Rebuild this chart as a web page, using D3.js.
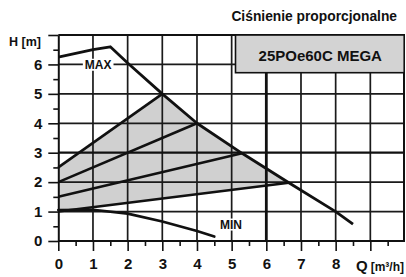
<!DOCTYPE html>
<html><head><meta charset="utf-8">
<script src="https://cdn.jsdelivr.net/npm/d3@7"></script>
<style>body{margin:0;background:#fff}svg{display:block;font-family:"Liberation Sans",Arial,sans-serif}</style>
</head><body><svg id="c" width="406" height="277"></svg>
<script>
const title = "Ciśnienie proporcjonalne";
const modelName = "25POe60C MEGA";
const xLabel = "Q [m³/h]";
const yLabel = "H [m]";
const xTickLabels = [0,1,2,3,4,5,6,7,8];
const yTickLabels = [0,1,2,3,4,5,6];
const xMajorTicks = [0,1,2,3,4,5,6,7,8,9];
const xMinorTicks = [0.5,1.5,2.5,3.5,4.5,5.5,6.5,7.5,8.5,9.5];
const yMajorTicks = [0,1,2,3,4,5,6,7];
const yMinorTicks = [0.5,1.5,2.5,3.5,4.5,5.5,6.5];
const xGrid = [1,2,3,4,5,6,7,8,9];
const yGrid = [1,2,3,4,5,6];
const maxCurve = [[0,6.25],[1,6.5],[1.5,6.6],[2,6.05],[3,5.0],[4,4.0],[5.3,2.98],[6.65,1.98],[8,1.0],[8.5,0.57]];
const minCurve = [[0,1.05],[1,1.06],[2,0.93],[3,0.66],[4,0.34],[4.5,0.15]];
const propLine1 = [[0,2.5],[3,5.0]];
const propLine2 = [[0,2.0],[4,4.0]];
const propLine3 = [[0,1.5],[5.3,2.98]];
const propLine4 = [[0,1.0],[6.65,1.98]];
const shadedArea = [[0,1.0],[6.65,1.98],[5.3,2.98],[4,4.0],[3,5.0],[0,2.5]];
const maxLabelPos = [1.15,6.0];
const minLabelPos = [4.98,0.57];

const svg = d3.select("#c");
const x = d3.scaleLinear().domain([0,10]).range([58.3,405]);
const y = d3.scaleLinear().domain([0,7]).range([241,35]);
const ink = "#111";

// shaded
svg.append("path").datum(shadedArea)
  .attr("d", d3.line().x(d=>x(d[0])).y(d=>y(d[1])).curve(d3.curveLinearClosed))
  .attr("fill","#d0d0d0").attr("stroke","none");

// grid as one path per group
const thin = d3.path();
xGrid.filter(v=>v!==6).forEach(v=>{thin.moveTo(x(v),y(7)); thin.lineTo(x(v),y(0));});
yGrid.filter(v=>v!==3).forEach(v=>{thin.moveTo(x(0),y(v)); thin.lineTo(x(10),y(v));});
svg.append("path").attr("d",thin.toString()).attr("fill","none").attr("stroke","#1a1a1a").attr("stroke-width",1.7);
const thickV = d3.path();
xGrid.filter(v=>v===6).forEach(v=>{thickV.moveTo(x(v),y(7)); thickV.lineTo(x(v),y(0));});
svg.append("path").attr("d",thickV.toString()).attr("fill","none").attr("stroke","#111").attr("stroke-width",2.8);
const thickH = d3.path();
yGrid.filter(v=>v===3).forEach(v=>{thickH.moveTo(x(0),y(v)); thickH.lineTo(x(10),y(v));});
svg.append("path").attr("d",thickH.toString()).attr("fill","none").attr("stroke","#111").attr("stroke-width",2.3);

// borders
svg.append("line").attr("x1",x(0)).attr("x2",x(10)).attr("y1",y(7)).attr("y2",y(7)).attr("stroke",ink).attr("stroke-width",2);
svg.append("line").attr("x1",404).attr("x2",404).attr("y1",y(7)).attr("y2",y(0)).attr("stroke",ink).attr("stroke-width",2);

// curves
const line = d3.line().x(d=>x(d[0])).y(d=>y(d[1]));
[propLine1,propLine2,propLine3,propLine4].forEach(p=>{
  svg.append("path").datum(p).attr("d",line).attr("fill","none").attr("stroke",ink).attr("stroke-width",2.6);
});
svg.append("path").datum(maxCurve).attr("d",line).attr("fill","none").attr("stroke",ink).attr("stroke-width",2.8).attr("stroke-linejoin","round");
svg.append("path").datum(minCurve).attr("d",line).attr("fill","none").attr("stroke",ink).attr("stroke-width",2.6).attr("stroke-linecap","round");

// curve labels
function curveLabel(txt,pos){
  const t = svg.append("text").attr("x",x(pos[0])).attr("y",y(pos[1])).attr("dy","0.36em")
    .attr("text-anchor","middle").attr("font-size",12).attr("font-weight","bold").attr("fill",ink).text(txt);
  const b = t.node().getBBox();
  svg.insert("rect", ()=>t.node()).attr("x",b.x-2).attr("y",b.y+1).attr("width",b.width+4).attr("height",b.height-2).attr("fill","#fff");
}
curveLabel("MAX",maxLabelPos);
curveLabel("MIN",minLabelPos);

// legend box
svg.append("rect").attr("x",235.5).attr("y",y(7)).attr("width",x(10)-235.5-0.8).attr("height",72.7-y(7))
  .attr("fill","#d3d3d3").attr("stroke",ink).attr("stroke-width",1.6);
svg.append("text").attr("x",(235.5+x(10))/2).attr("y",61).attr("text-anchor","middle")
  .attr("font-size",15).attr("font-weight","bold").attr("fill",ink).text(modelName);

// axes
function styleAxis(sel){
  sel.select(".domain").attr("stroke",ink).attr("stroke-width",2);
  sel.selectAll(".tick line").attr("stroke",ink).attr("stroke-width",1.6);
  sel.selectAll(".tick text").attr("fill",ink).attr("font-size",15).attr("font-weight","bold").attr("font-family","Liberation Sans, Arial, sans-serif");
}
svg.append("g").attr("transform",`translate(0,${y(0)})`)
  .call(d3.axisBottom(x).tickValues(xMinorTicks).tickSize(5).tickFormat("").tickSizeOuter(0))
  .call(s=>{s.select(".domain").remove();s.selectAll(".tick line").attr("stroke",ink).attr("stroke-width",1.6);});
svg.append("g").attr("transform",`translate(${x(0)},0)`)
  .call(d3.axisLeft(y).tickValues(yMinorTicks).tickSize(5).tickFormat("").tickSizeOuter(0))
  .call(s=>{s.select(".domain").remove();s.selectAll(".tick line").attr("stroke",ink).attr("stroke-width",1.6);});
svg.append("g").attr("transform",`translate(0,${y(0)})`)
  .call(d3.axisBottom(x).tickValues(xMajorTicks).tickSize(10).tickPadding(7).tickSizeOuter(0)
    .tickFormat(d=>xTickLabels.includes(d)?String(d):""))
  .call(styleAxis)
  .call(s=>s.select(".domain").attr("d",`M${x(0)},0H${x(10)}`));
svg.append("g").attr("transform",`translate(${x(0)},0)`)
  .call(d3.axisLeft(y).tickValues(yMajorTicks).tickSize(10).tickPadding(6).tickSizeOuter(0)
    .tickFormat(d=>yTickLabels.includes(d)?String(d):""))
  .call(styleAxis);

// axis titles
svg.append("text").attr("x",41).attr("y",46).attr("text-anchor","end").attr("font-size",12.5).attr("font-weight","bold").attr("fill",ink).text(yLabel);
const q = svg.append("text").attr("x",404).attr("y",271).attr("text-anchor","end").attr("fill",ink).attr("font-weight","bold");
q.append("tspan").attr("font-size",15).text(xLabel.slice(0,1));
q.append("tspan").attr("font-size",12).attr("dx",3).text(xLabel.slice(2));

// title
svg.append("text").attr("x",397).attr("y",21).attr("text-anchor","end").attr("font-size",13.8).attr("font-weight","bold").attr("fill",ink).text(title);
</script></body></html>
